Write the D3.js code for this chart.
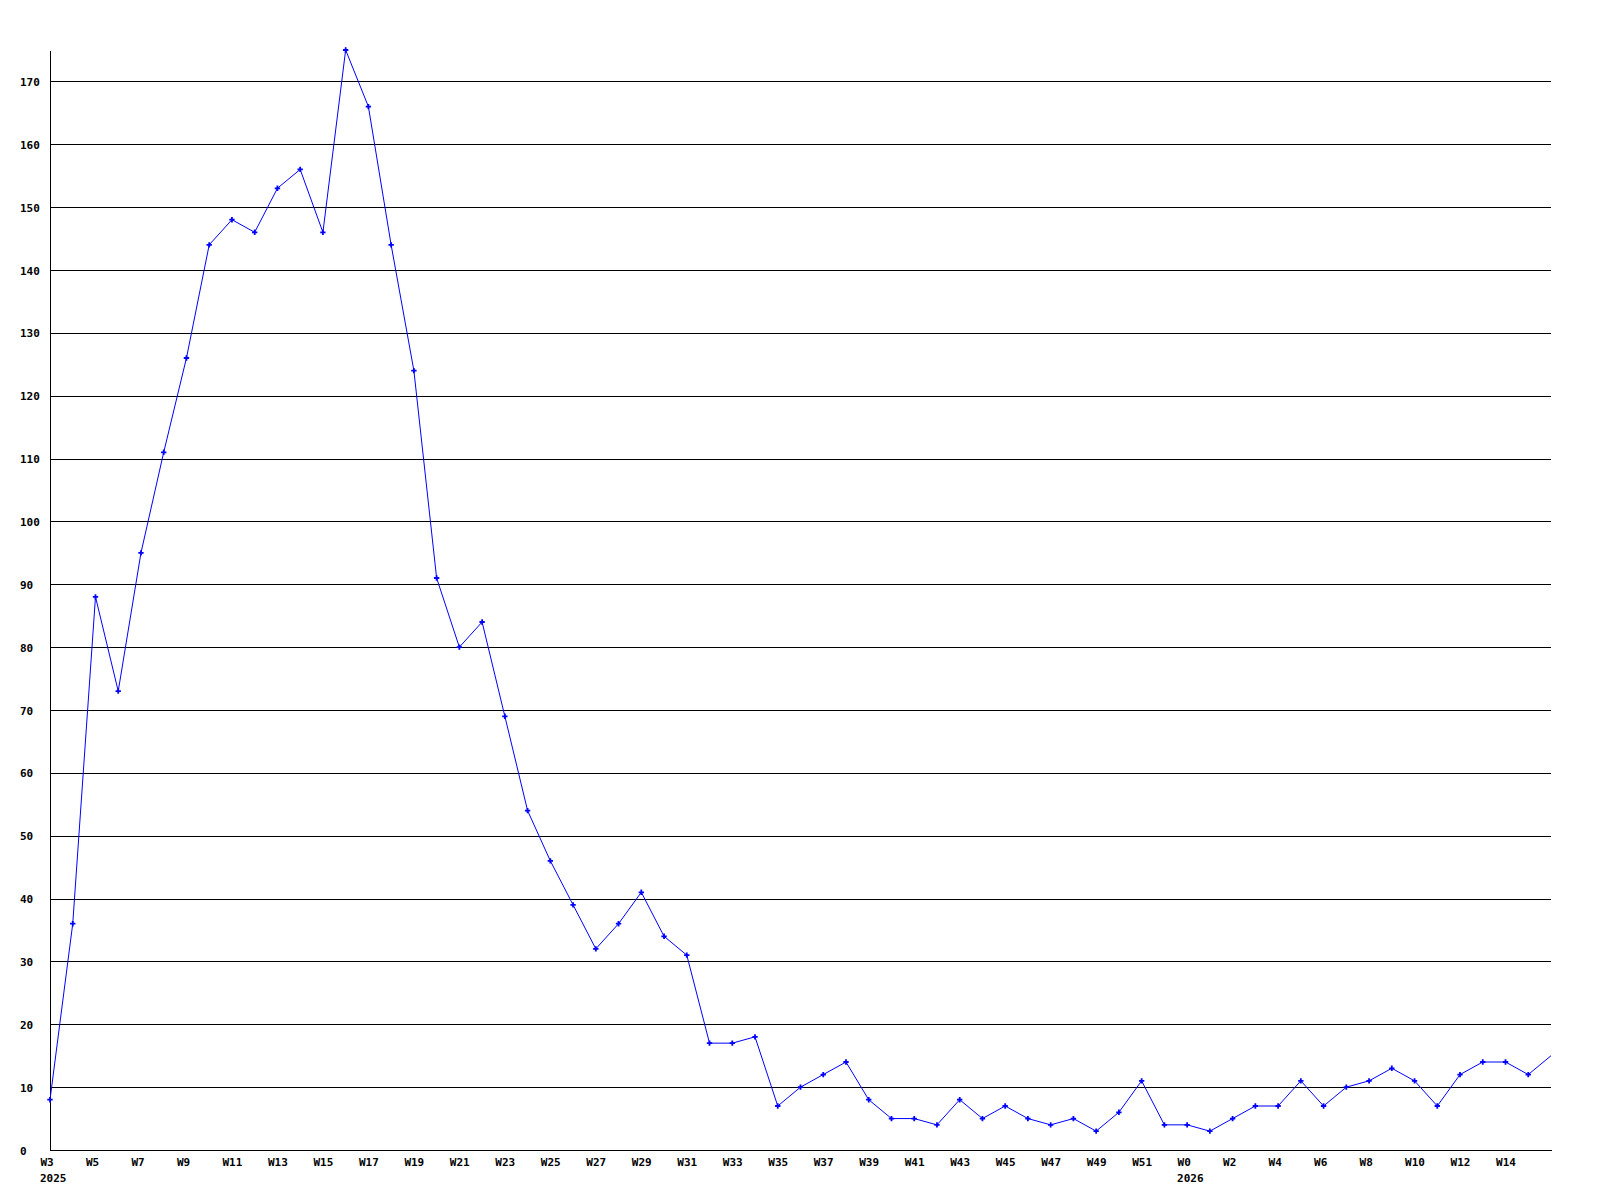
<!DOCTYPE html>
<html>
<head>
<meta charset="utf-8">
<script src="https://cdn.jsdelivr.net/npm/d3@7"></script>
<style>
  body { margin: 0; background: #fff; }
  svg { display: block; }
  .axis text { font-family: "DejaVu Sans Mono", monospace; font-weight: bold; font-size: 11px; fill: #000; }
  .axis path, .axis line { stroke: #000; shape-rendering: crispEdges; }
</style>
</head>
<body>
<div id="chart"></div>
<script>
// weekly counts, W3 2025 .. W16 2026
const weeks2025 = d3.range(3, 53)
const values2025 = [8, 36, 88, 73, 95, 111, 126, 144, 148, 146,
  153, 156, 146, 175, 166, 144, 124, 91, 80, 84,
  69, 54, 46, 39, 32, 36, 41, 34, 31, 17,
  17, 18, 7, 10, 12, 14, 8, 5, 5, 4,
  8, 5, 7, 5, 4, 5, 3, 6, 11, 4]
const weeks2026 = d3.range(0, 17)
const values2026 = [4, 3, 5, 7, 7, 11, 7, 10, 11, 13, 11, 7, 12, 14, 14, 12, 15]
const yTicks = d3.range(0, 171, 10)

const width = 1600
const height = 1200
const plotLeft = 50, plotRight = 1551, plotTop = 50, plotBottom = 1150

const data = weeks2025.map((w, i) => ({key: '2025-' + w, year: 2025, week: w, value: values2025[i]}))
  .concat(weeks2026.map((w, i) => ({key: '2026-' + w, year: 2026, week: w, value: values2026[i]})))

const x = d3.scalePoint()
    .domain(data.map(d => d.key))
    .range([plotLeft, plotRight])

const y = d3.scaleLinear()
    .domain([0, 175])
    .range([plotBottom, plotTop])

const svg = d3.select('#chart')
    .append('svg')
    .attr('width', width)
    .attr('height', height)

// y axis + horizontal grid
const yAxis = svg.append('g')
    .attr('class', 'axis')
    .attr('transform', `translate(${plotLeft},0)`)
    .call(d3.axisLeft(y).tickValues(yTicks).tickSize(-(plotRight - plotLeft)).tickSizeOuter(0))

yAxis.selectAll('text')
    .attr('x', -30)
    .attr('dy', 4)
    .attr('text-anchor', 'start')

// x axis, every second week labelled (last point at the edge has none)
const labelKeys = data.filter((d, i) => i % 2 === 0 && i < data.length - 1).map(d => d.key)
const byKey = new Map(data.map(d => [d.key, d]))

const xAxis = svg.append('g')
    .attr('class', 'axis')
    .attr('transform', `translate(0,${plotBottom})`)
    .call(d3.axisBottom(x).tickValues(labelKeys).tickSize(0).tickFormat(k => 'W' + byKey.get(k).week))

xAxis.selectAll('text')
    .attr('x', -10)
    .attr('y', 16)
    .attr('dy', 0)
    .attr('text-anchor', 'start')

// year labels under the first week of each year
const yearStarts = [data[0], data.find(d => d.year === 2026)]
xAxis.selectAll('text.year')
    .data(yearStarts)
    .enter()
    .append('text')
    .attr('class', 'year')
    .attr('x', d => x(d.key) - 10)
    .attr('y', 32)
    .attr('text-anchor', 'start')
    .text(d => d.year)

// series line
const line = d3.line()
    .x(d => x(d.key))
    .y(d => y(d.value))

svg.append('path')
    .datum(data)
    .attr('fill', 'none')
    .attr('stroke', '#0000ff')
    .attr('stroke-width', 1)
    .attr('d', line)

svg.selectAll('path.marker')
    .data(data.slice(0, -1))
    .enter()
    .append('path')
    .attr('class', 'marker')
    .attr('fill', '#0000ff')
    .attr('transform', d => `translate(${x(d.key)},${y(d.value)})`)
    .attr('d', d3.symbol(d3.symbolCross, 16))
</script>
</body>
</html>
